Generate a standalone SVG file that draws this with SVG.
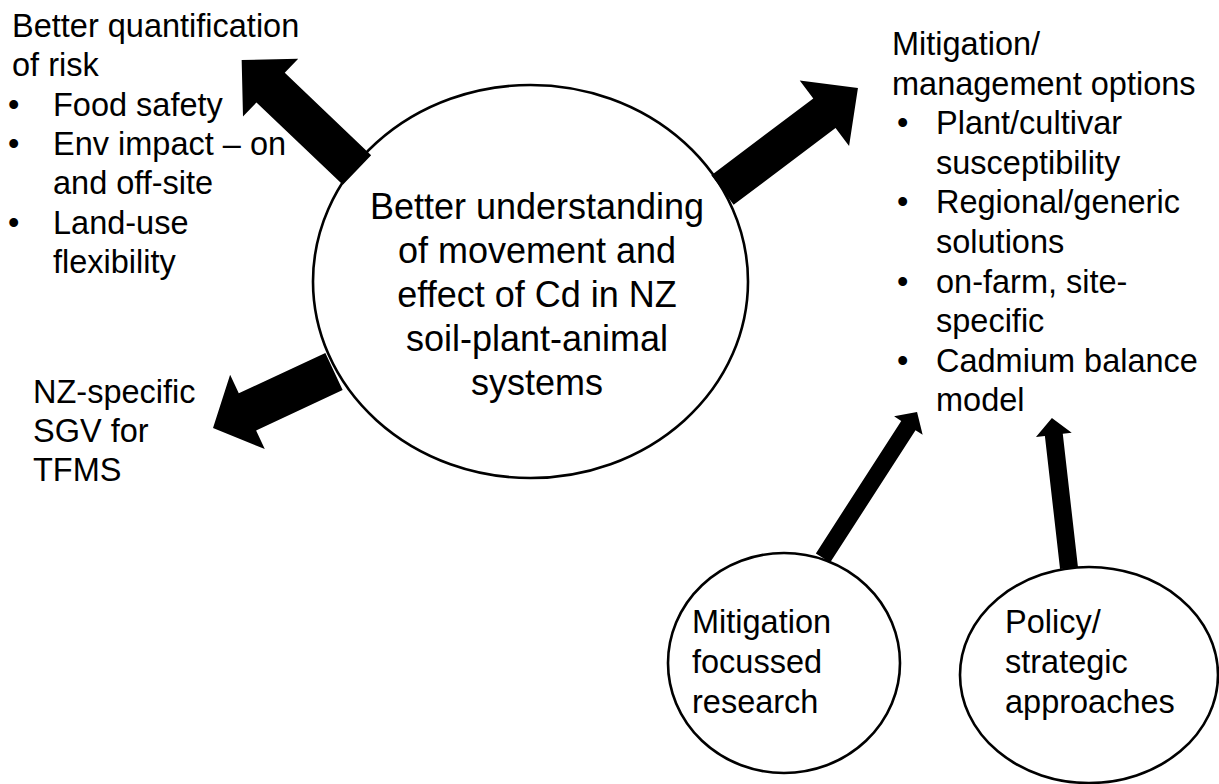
<svg xmlns="http://www.w3.org/2000/svg" width="1219" height="784" viewBox="0 0 1219 784">
  <style>
    .bubble { fill: #ffffff; stroke: #000000; stroke-width: 2.6; }
    .arrow { fill: #000000; stroke: none; }
    .lbl { font-family: "Liberation Sans", Arial, sans-serif; font-size: 32.5px; fill: #000000; }
    .core { font-family: "Liberation Sans", Arial, sans-serif; font-size: 36px; fill: #000000; text-anchor: middle; }
  </style>
  <rect x="0" y="0" width="1219" height="784" fill="#ffffff"/>

  <!-- nodes -->
  <g id="core-node">
    <ellipse class="bubble" cx="530.5" cy="281.5" rx="217.5" ry="196.5"/>
    <text class="core" x="537" y="219">Better understanding</text>
    <text class="core" x="537" y="263">of movement and</text>
    <text class="core" x="537" y="307">effect of Cd in NZ</text>
    <text class="core" x="537" y="351">soil-plant-animal</text>
    <text class="core" x="537" y="395">systems</text>
  </g>

  <g id="research-node">
    <ellipse class="bubble" cx="784" cy="663" rx="116" ry="110"/>
    <text class="lbl" x="692" y="633">Mitigation</text>
    <text class="lbl" x="692" y="673">focussed</text>
    <text class="lbl" x="692" y="713">research</text>
  </g>

  <g id="policy-node">
    <ellipse class="bubble" cx="1089" cy="675" rx="129" ry="108"/>
    <text class="lbl" x="1005" y="633">Policy/</text>
    <text class="lbl" x="1005" y="673">strategic</text>
    <text class="lbl" x="1005" y="713">approaches</text>
  </g>

  <g id="risk-node">
    <text class="lbl" x="12" y="37">Better quantification</text>
    <text class="lbl" x="12" y="76.3">of risk</text>
    <text class="lbl" x="8" y="115.6">•</text>
    <text class="lbl" x="53" y="115.6">Food safety</text>
    <text class="lbl" x="8" y="154.9">•</text>
    <text class="lbl" x="53" y="154.9">Env impact – on</text>
    <text class="lbl" x="53" y="194.2">and off-site</text>
    <text class="lbl" x="8" y="233.5">•</text>
    <text class="lbl" x="53" y="233.5">Land-use</text>
    <text class="lbl" x="53" y="272.8">flexibility</text>
  </g>

  <g id="sgv-node">
    <text class="lbl" x="33" y="403">NZ-specific</text>
    <text class="lbl" x="33" y="442">SGV for</text>
    <text class="lbl" x="33" y="481">TFMS</text>
  </g>

  <g id="mitigation-node">
    <text class="lbl" x="892" y="55">Mitigation/</text>
    <text class="lbl" x="892" y="94.6">management options</text>
    <text class="lbl" x="897" y="134.2">•</text>
    <text class="lbl" x="936" y="134.2">Plant/cultivar</text>
    <text class="lbl" x="936" y="173.8">susceptibility</text>
    <text class="lbl" x="897" y="213.4">•</text>
    <text class="lbl" x="936" y="213.4">Regional/generic</text>
    <text class="lbl" x="936" y="253">solutions</text>
    <text class="lbl" x="897" y="292.6">•</text>
    <text class="lbl" x="936" y="292.6">on-farm, site-</text>
    <text class="lbl" x="936" y="332.2">specific</text>
    <text class="lbl" x="897" y="371.8">•</text>
    <text class="lbl" x="936" y="371.8">Cadmium balance</text>
    <text class="lbl" x="936" y="411.4">model</text>
  </g>

  <!-- connectors: block arrows, each drawn along +x from its base then placed -->
  <g id="connectors">
    <polygon class="arrow" transform="translate(357,170) rotate(223.65)"
             points="0,-20.5 119.4,-20.5 119.4,-40 159.4,0 119.4,40 119.4,20.5 0,20.5"/>
    <polygon class="arrow" transform="translate(722.5,190) rotate(-37)"
             points="0,-18.5 127.6,-18.5 127.6,-41 169.6,0 127.6,41 127.6,18.5 0,18.5"/>
    <polygon class="arrow" transform="translate(334,371.5) rotate(155)"
             points="0,-20.5 95.5,-20.5 95.5,-41 133.5,0 95.5,41 95.5,20.5 0,20.5"/>
    <polygon class="arrow" transform="translate(823,558) rotate(-57.2)"
             points="0,-8.5 157.6,-8.5 157.6,-17 173.6,0 157.6,17 157.6,8.5 0,8.5"/>
    <polygon class="arrow" transform="translate(1069,568) rotate(-96.5)"
             points="0,-9 134,-9 134,-18 151,0 134,18 134,9 0,9"/>
  </g>
</svg>
